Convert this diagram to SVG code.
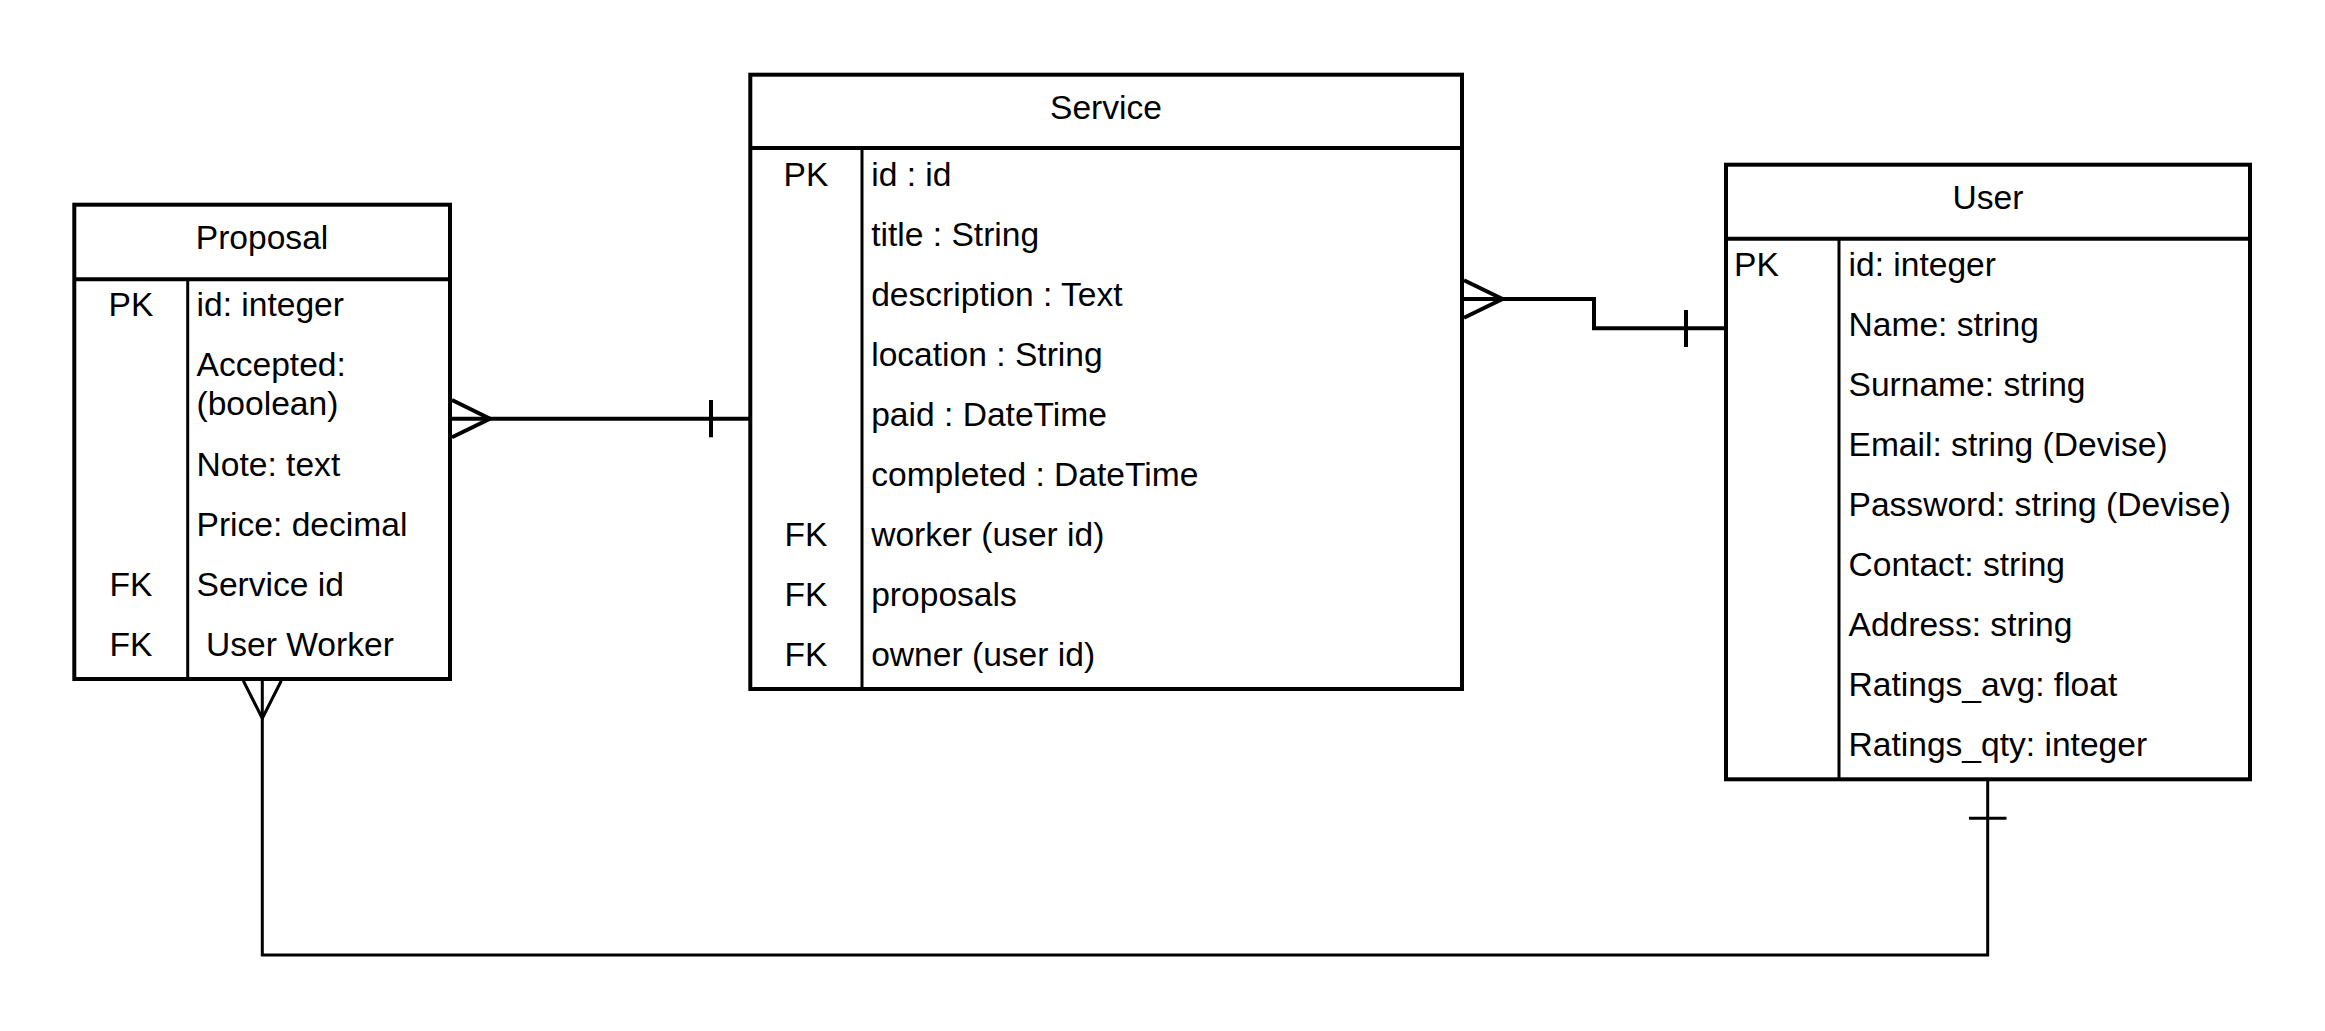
<svg xmlns="http://www.w3.org/2000/svg" width="2325" height="1031" viewBox="0 0 2325 1031">
<style>
  .box { fill: #ffffff; stroke: #000000; stroke-width: 4; }
  .sep { fill: none; stroke: #000000; stroke-width: 4; }
  .div { fill: none; stroke: #000000; stroke-width: 3; }
  .conn { fill: none; stroke: #000000; stroke-width: 4; stroke-linejoin: miter; }
  .conn2 { fill: none; stroke: #000000; stroke-width: 3; stroke-linejoin: miter; }
  text { font-family: "Liberation Sans", Arial, Helvetica, sans-serif; font-size: 33.6px; fill: #000000; }
  .title { text-anchor: middle; }
  .key { text-anchor: middle; }
</style>
<rect width="2325" height="1031" fill="#ffffff"/>

<g id="connectors">
  <!-- Proposal (many) to Service (one) -->
  <g id="conn-proposal-service">
    <path class="conn" d="M452,418.7 L750,418.7"/>
    <path class="conn" d="M452,400 L490,418.7 L452,437.3"/>
    <path class="conn" d="M711,400 L711,437.3"/>
  </g>
  <!-- Service (many) to User (one) -->
  <g id="conn-service-user">
    <path class="conn" d="M1464,299 L1594,299 L1594,328.3 L1726,328.3"/>
    <path class="conn" d="M1464,280.3 L1502.5,299 L1464,317.7"/>
    <path class="conn" d="M1686,310 L1686,347"/>
  </g>
  <!-- Proposal (many) to User (one) -->
  <g id="conn-proposal-user">
    <path class="conn2" d="M262.3,681 L262.3,955 L1987.7,955 L1987.7,781"/>
    <path class="conn2" d="M243.3,680.7 L262.3,718.3 L281.3,680.7"/>
    <path class="conn2" d="M1969,818.3 L2006.5,818.3"/>
  </g>
</g>

<g id="node-proposal">
  <rect class="box" x="74.3" y="204.7" width="375.7" height="474.3"/>
  <line class="sep" x1="74.3" y1="279.3" x2="450" y2="279.3"/>
  <line class="div" x1="187.7" y1="279.3" x2="187.7" y2="679"/>
  <text class="title" x="262" y="249">Proposal</text>
  <text class="key" x="131" y="315.5">PK</text>
  <text x="196.5" y="315.5">id: integer</text>
  <text x="196.5" y="376">Accepted:</text>
  <text x="196.5" y="415">(boolean)</text>
  <text x="196.5" y="475.5">Note: text</text>
  <text x="196.5" y="535.5">Price: decimal</text>
  <text class="key" x="131" y="595.5">FK</text>
  <text x="196.5" y="595.5">Service id</text>
  <text class="key" x="131" y="655.5">FK</text>
  <text x="206" y="655.5">User Worker</text>
</g>

<g id="node-service">
  <rect class="box" x="750.3" y="74.7" width="711.7" height="614.3"/>
  <line class="sep" x1="750.3" y1="148" x2="1462" y2="148"/>
  <line class="div" x1="862" y1="148" x2="862" y2="689"/>
  <text class="title" x="1106" y="118.5">Service</text>
  <text class="key" x="806" y="185.5">PK</text>
  <text x="871.2" y="185.5">id : id</text>
  <text x="871.2" y="245.5">title : String</text>
  <text x="871.2" y="305.5">description : Text</text>
  <text x="871.2" y="365.5">location : String</text>
  <text x="871.2" y="425.5">paid : DateTime</text>
  <text x="871.2" y="485.5">completed : DateTime</text>
  <text class="key" x="806" y="545.5">FK</text>
  <text x="871.2" y="545.5">worker (user id)</text>
  <text class="key" x="806" y="605.5">FK</text>
  <text x="871.2" y="605.5">proposals</text>
  <text class="key" x="806" y="665.5">FK</text>
  <text x="871.2" y="665.5">owner (user id)</text>
</g>

<g id="node-user">
  <rect class="box" x="1726" y="164.7" width="524" height="614.6"/>
  <line class="sep" x1="1726" y1="238.7" x2="2250" y2="238.7"/>
  <line class="div" x1="1839" y1="238.7" x2="1839" y2="779.3"/>
  <text class="title" x="1988" y="208.7">User</text>
  <text x="1734" y="275.5">PK</text>
  <text x="1848.5" y="275.5">id: integer</text>
  <text x="1848.5" y="335.5">Name: string</text>
  <text x="1848.5" y="395.5">Surname: string</text>
  <text x="1848.5" y="455.5">Email: string (Devise)</text>
  <text x="1848.5" y="515.5">Password: string (Devise)</text>
  <text x="1848.5" y="575.5">Contact: string</text>
  <text x="1848.5" y="635.5">Address: string</text>
  <text x="1848.5" y="695.5">Ratings_avg: float</text>
  <text x="1848.5" y="755.5">Ratings_qty: integer</text>
</g>
</svg>
